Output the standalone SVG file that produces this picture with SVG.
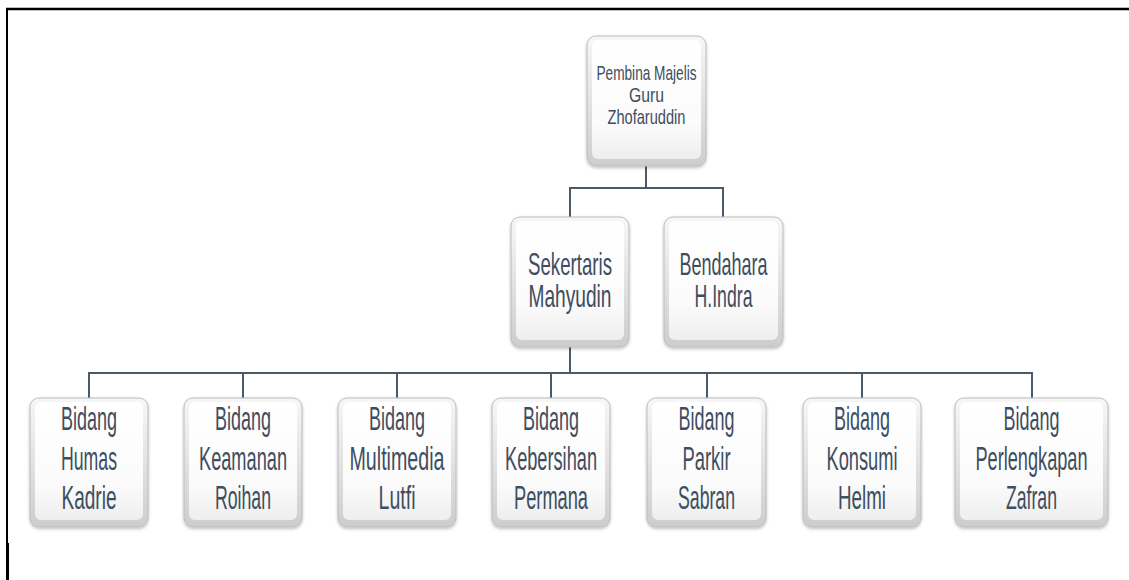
<svg xmlns="http://www.w3.org/2000/svg" width="1129" height="580" viewBox="0 0 1129 580">
<style>
.frame{stroke:#000;fill:none}
.conn{stroke:#4b5a6b;stroke-width:2;fill:none}
.outer{fill:url(#gOuter);stroke:#bcbcbc;stroke-width:1;filter:url(#sh)}
.inner{fill:url(#gInner);stroke:none}
.t{font-family:"Liberation Sans",Arial,sans-serif;fill:#3e4d60;text-anchor:middle}
.s{font-size:13.6px}
.m{font-size:18.5px}
.b{font-size:18px}
</style>
<defs>
<linearGradient id="gOuter" x1="0" y1="0" x2="0" y2="1">
<stop offset="0" stop-color="#f7f7f7"/>
<stop offset="1" stop-color="#cdcdcd"/>
</linearGradient>
<linearGradient id="gInner" x1="0" y1="0" x2="0" y2="1">
<stop offset="0" stop-color="#ffffff"/>
<stop offset="0.7" stop-color="#fbfbfb"/>
<stop offset="1" stop-color="#eeeeee"/>
</linearGradient>
<filter id="sh" x="-10%" y="-10%" width="120%" height="125%">
<feDropShadow dx="0" dy="1.5" stdDeviation="1.5" flood-color="#000" flood-opacity="0.25"/>
</filter>
</defs>
<rect width="1129" height="580" fill="#fff"/>
<g id="frame">
<line class="frame" x1="6" y1="9" x2="1129" y2="9" stroke-width="2.5"/>
<line class="frame" x1="7" y1="8" x2="7" y2="543" stroke-width="2"/>
<line class="frame" x1="7.5" y1="543" x2="7.5" y2="580" stroke-width="3"/>
</g>
<g id="connectors">
<path class="conn" d="M646,166 V188 M570,217 V188 H723 V217"/>
<path class="conn" d="M570,347 V373 M89,398 V373 H1032 V398 M243,373 V398 M397,373 V398 M551,373 V398 M707,373 V398 M862,373 V398"/>
</g>
<g id="n-pembina">
<rect class="outer" x="587" y="36" width="119" height="130" rx="9"/>
<rect class="inner" x="592" y="40" width="109" height="119" rx="6"/>
<text class="t s" transform="translate(646.5,80) scale(1,1.55)" textLength="100" lengthAdjust="spacingAndGlyphs">Pembina Majelis</text>
<text class="t s" transform="translate(646.5,102) scale(1,1.55)" textLength="35" lengthAdjust="spacingAndGlyphs">Guru</text>
<text class="t s" transform="translate(646.5,124) scale(1,1.55)" textLength="78" lengthAdjust="spacingAndGlyphs">Zhofaruddin</text>
</g>
<g id="n-sekertaris">
<rect class="outer" x="511" y="217" width="118" height="130" rx="9"/>
<rect class="inner" x="516" y="221" width="108" height="119" rx="6"/>
<text class="t m" transform="translate(570,275) scale(1,1.66)" textLength="84" lengthAdjust="spacingAndGlyphs">Sekertaris</text>
<text class="t m" transform="translate(570,307) scale(1,1.66)" textLength="83" lengthAdjust="spacingAndGlyphs">Mahyudin</text>
</g>
<g id="n-bendahara">
<rect class="outer" x="664" y="217" width="119" height="130" rx="9"/>
<rect class="inner" x="669" y="221" width="109" height="119" rx="6"/>
<text class="t m" transform="translate(723.5,275) scale(1,1.66)" textLength="88" lengthAdjust="spacingAndGlyphs">Bendahara</text>
<text class="t m" transform="translate(723.5,307) scale(1,1.66)" textLength="58" lengthAdjust="spacingAndGlyphs">H.Indra</text>
</g>
<g id="n-humas">
<rect class="outer" x="30" y="398" width="118" height="129" rx="9"/>
<rect class="inner" x="35" y="402" width="108" height="118" rx="6"/>
<text class="t b" transform="translate(89,430) scale(1,1.8)" textLength="56" lengthAdjust="spacingAndGlyphs">Bidang</text>
<text class="t b" transform="translate(89,470) scale(1,1.8)" textLength="56" lengthAdjust="spacingAndGlyphs">Humas</text>
<text class="t b" transform="translate(89,509) scale(1,1.8)" textLength="55" lengthAdjust="spacingAndGlyphs">Kadrie</text>
</g>
<g id="n-keamanan">
<rect class="outer" x="184" y="398" width="118" height="129" rx="9"/>
<rect class="inner" x="189" y="402" width="108" height="118" rx="6"/>
<text class="t b" transform="translate(243,430) scale(1,1.8)" textLength="56" lengthAdjust="spacingAndGlyphs">Bidang</text>
<text class="t b" transform="translate(243,470) scale(1,1.8)" textLength="88" lengthAdjust="spacingAndGlyphs">Keamanan</text>
<text class="t b" transform="translate(243,509) scale(1,1.8)" textLength="56" lengthAdjust="spacingAndGlyphs">Roihan</text>
</g>
<g id="n-multimedia">
<rect class="outer" x="338" y="398" width="118" height="129" rx="9"/>
<rect class="inner" x="343" y="402" width="108" height="118" rx="6"/>
<text class="t b" transform="translate(397,430) scale(1,1.8)" textLength="56" lengthAdjust="spacingAndGlyphs">Bidang</text>
<text class="t b" transform="translate(397,470) scale(1,1.8)" textLength="95" lengthAdjust="spacingAndGlyphs">Multimedia</text>
<text class="t b" transform="translate(397,509) scale(1,1.8)" textLength="37" lengthAdjust="spacingAndGlyphs">Lutfi</text>
</g>
<g id="n-kebersihan">
<rect class="outer" x="492" y="398" width="118" height="129" rx="9"/>
<rect class="inner" x="497" y="402" width="108" height="118" rx="6"/>
<text class="t b" transform="translate(551,430) scale(1,1.8)" textLength="56" lengthAdjust="spacingAndGlyphs">Bidang</text>
<text class="t b" transform="translate(551,470) scale(1,1.8)" textLength="92" lengthAdjust="spacingAndGlyphs">Kebersihan</text>
<text class="t b" transform="translate(551,509) scale(1,1.8)" textLength="74" lengthAdjust="spacingAndGlyphs">Permana</text>
</g>
<g id="n-parkir">
<rect class="outer" x="647" y="398" width="119" height="129" rx="9"/>
<rect class="inner" x="652" y="402" width="109" height="118" rx="6"/>
<text class="t b" transform="translate(706.5,430) scale(1,1.8)" textLength="56" lengthAdjust="spacingAndGlyphs">Bidang</text>
<text class="t b" transform="translate(706.5,470) scale(1,1.8)" textLength="48" lengthAdjust="spacingAndGlyphs">Parkir</text>
<text class="t b" transform="translate(706.5,509) scale(1,1.8)" textLength="57" lengthAdjust="spacingAndGlyphs">Sabran</text>
</g>
<g id="n-konsumi">
<rect class="outer" x="803" y="398" width="118" height="129" rx="9"/>
<rect class="inner" x="808" y="402" width="108" height="118" rx="6"/>
<text class="t b" transform="translate(862,430) scale(1,1.8)" textLength="56" lengthAdjust="spacingAndGlyphs">Bidang</text>
<text class="t b" transform="translate(862,470) scale(1,1.8)" textLength="71" lengthAdjust="spacingAndGlyphs">Konsumi</text>
<text class="t b" transform="translate(862,509) scale(1,1.8)" textLength="48" lengthAdjust="spacingAndGlyphs">Helmi</text>
</g>
<g id="n-perlengkapan">
<rect class="outer" x="955" y="398" width="153" height="129" rx="9"/>
<rect class="inner" x="960" y="402" width="143" height="118" rx="6"/>
<text class="t b" transform="translate(1031.5,430) scale(1,1.8)" textLength="56" lengthAdjust="spacingAndGlyphs">Bidang</text>
<text class="t b" transform="translate(1031.5,470) scale(1,1.8)" textLength="112" lengthAdjust="spacingAndGlyphs">Perlengkapan</text>
<text class="t b" transform="translate(1031.5,509) scale(1,1.8)" textLength="51" lengthAdjust="spacingAndGlyphs">Zafran</text>
</g>
</svg>
